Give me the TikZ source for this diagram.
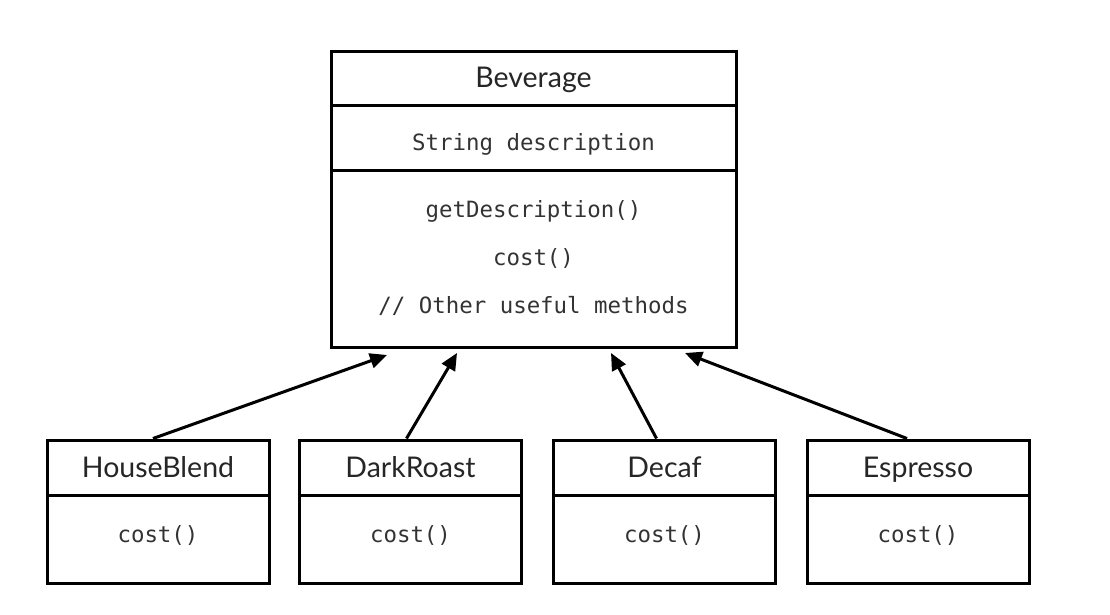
\documentclass[tikz,border=0pt]{standalone}
\usepackage{fontspec}
\setmainfont{Lato}
\setmonofont{DejaVu Sans Mono}
\usetikzlibrary{arrows.meta,calc}
\begin{document}
\begin{tikzpicture}[x=1pt,y=-1pt,
  box/.style={draw=black,line width=3pt,inner sep=0pt,fill=white},
  head/.style={font=\fontsize{28.5}{32}\selectfont,text=black!85,inner sep=0pt,text height=20pt,text depth=6pt},
  code/.style={font=\ttfamily\fontsize{22.4}{26}\selectfont,text=black!80,inner sep=0pt,text height=17pt,text depth=5pt},
  inh/.style={line width=3pt,-{Triangle[length=17pt,width=15pt]},shorten >=0pt}]
\useasboundingbox[fill=white] (0,0) rectangle (1110,615);
% Beverage
\node[box,minimum width=405pt,minimum height=54pt] (bevt) at (533.5,79) {};
\node[box,minimum width=405pt,minimum height=64pt] (beva) at (533.5,138) {};
\node[box,minimum width=405pt,minimum height=177pt] (bevm) at (533.5,258.5) {};
\node[head] (bevn) at (533.5,81) {Beverage};
\node[code] (attr) at (533.5,144) {String description};
\node[code] (m1) at (533.5,211) {getDescription()};
\node[code] (m2) at (533.5,259) {cost()};
\node[code] (m3) at (533.5,307) {// Other useful methods};
% subclasses
\foreach \nm/\lab/\cx in {hb/HouseBlend/158, dr/DarkRoast/410.5, dc/Decaf/664.5, es/Espresso/918}{
  \node[box,minimum width=222pt,minimum height=55pt] (\nm) at (\cx,467.5) {};
  \node[box,minimum width=222pt,minimum height=88pt] (\nm b) at (\cx,539) {};
  \node[head] (\nm n) at (\cx,470) {\lab};
  \node[code] (\nm c) at (\cx,536) {cost()};
}
\coordinate (t1) at (387,355);
\coordinate (t2) at (457,353);
\coordinate (t3) at (611,353);
\coordinate (t4) at (685,353);
\coordinate (s1) at ($(hb.north)+(-5,0)$);
\coordinate (s2) at ($(dr.north)+(-4,0)$);
\coordinate (s3) at ($(dc.north)+(-8,0)$);
\coordinate (s4) at ($(es.north)+(-11,0)$);
\draw[inh] (s1) -- (t1);
\draw[inh] (s2) -- (t2);
\draw[inh] (s3) -- (t3);
\draw[inh] (s4) -- (t4);
\end{tikzpicture}
\end{document}
